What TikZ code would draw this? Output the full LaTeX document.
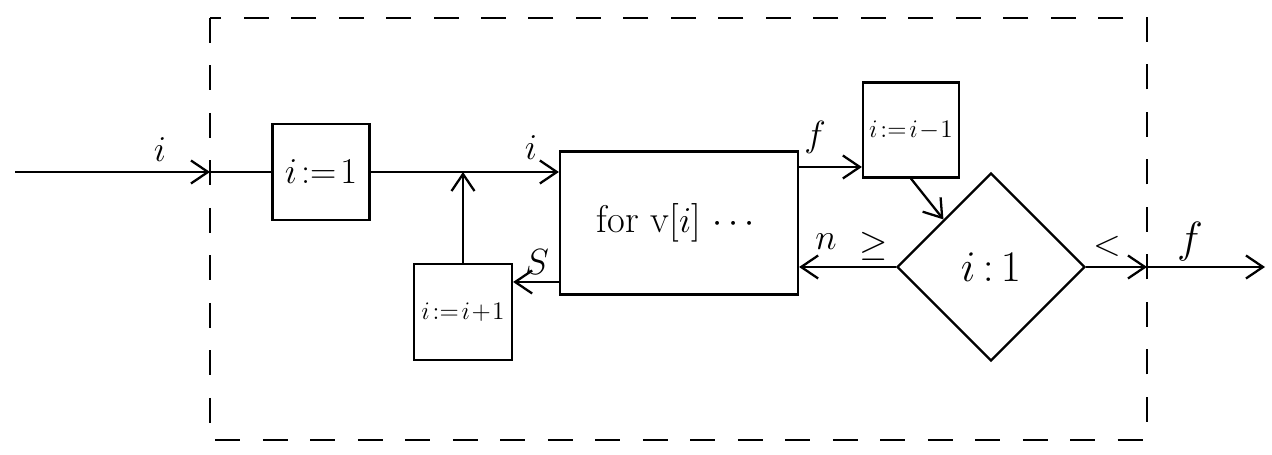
\documentclass[tikz,border=0pt]{standalone}
\usepackage{amsmath,amssymb}
\usetikzlibrary{arrows.meta,shapes.geometric}

\begin{document}
\begin{tikzpicture}[x=0.02cm, y=-0.02cm, line width=1.3pt,
	every node/.style={font=\fontsize{20}{24}\selectfont},
	box/.style={draw, inner sep=0pt},
	arr/.style={-{Straight Barb[length=3.4mm,width=4.6mm,line width=1.3pt]}},
	frame/.style={dash pattern=on 0.5cm off 0.45cm}]
	\useasboundingbox (0,0) rectangle (1272,455);
	% boundary of the block
	\draw[frame] (210,18) rectangle (1147,440);
	\coordinate (src) at (15,172);
	\coordinate (in) at (210,172);
	\coordinate (out) at (1147,267);
	\coordinate (dst) at (1265,267);
	% blocks
	\node[box, minimum width=1.94cm, minimum height=1.92cm] (init) at (321,172) {$i\!:=\!1$};
	\node[box, minimum width=1.96cm, minimum height=1.92cm, font=\fontsize{15}{18}\selectfont] (inc) at (463,312) {$i\!:=\!i\!+\!1$};
	\node[box, minimum width=4.76cm, minimum height=2.86cm, font=\fontsize{22}{26}\selectfont] (body) at (679,223) {for v[$i$] $\cdots$};
	\node[box, minimum width=1.92cm, minimum height=1.90cm, font=\fontsize{15}{18}\selectfont] (dec) at (911,130) {$i\!:=\!i\!-\!1$};
	\node[box, diamond, aspect=1, minimum width=3.76cm, minimum height=3.76cm, font=\fontsize{24}{28}\selectfont] (cmp) at (991,267) {$i\,{:}\,1$};
	% connectors
	\draw[arr] (src) -- (in);
	\draw (in) -- (init.west);
	\draw[arr] (init.east) -- (init.east -| body.west);
	\draw[arr] (inc.north) -- (inc.north |- init.east);
	\draw[arr] (body.west |- 0,282) -- (inc.east |- 0,282);
	\draw[arr] (body.east |- 0,167) -- (dec.west |- 0,167);
	\draw[arr] (dec.south) -- (cmp.north west);
	\draw[arr] (cmp.west) -- (cmp.west -| body.east);
	\draw[arr] (cmp.east) -- (out);
	\draw[arr] (out) -- (dst);
	% labels
	\node (li) at (160,150) {$i$};
	\node (lib) at (531,148) {$i$};
	\node (ls) at (537,262) {$S$};
	\node (lf) at (815,137) {$f$};
	\node (ln) at (826,242) {$n$};
	\node (lge) at (874,246) {$\geq$};
	\node (llt) at (1107,246) {$<$};
	\node[font=\fontsize{24}{28}\selectfont] (lfo) at (1190,242) {$f$};
\end{tikzpicture}
\end{document}
